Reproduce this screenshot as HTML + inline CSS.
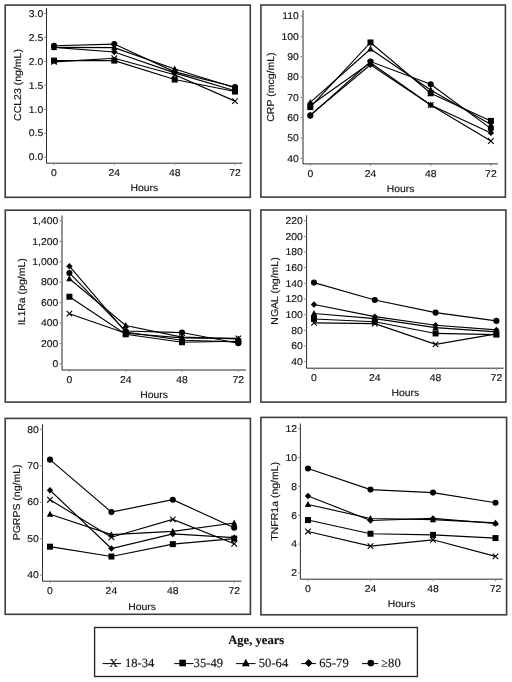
<!DOCTYPE html>
<html><head><meta charset="utf-8"><style>
html,body{margin:0;padding:0;background:#fff;}
body{width:512px;height:682px;overflow:hidden;}
svg{display:block;will-change:transform;font-family:"Liberation Sans",sans-serif;font-size:10.4px;fill:#111;}
svg text{stroke:#111;stroke-width:0.15px;text-rendering:geometricPrecision;}
</style></head><body>
<svg width="512" height="682" viewBox="0 0 512 682">
<rect x="5.2" y="5.1" width="245.10" height="192.20" fill="none" stroke="#3c3c3c" stroke-width="1.6"/>
<path d="M46.5,8.0V163.2H242.2" fill="none" stroke="#2a2a2a" stroke-width="1"/>
<path d="M44.00,157.20H46.5" stroke="#888" stroke-width="1"/>
<text transform="translate(43.20,160.44) scale(1,0.95)" text-anchor="end">0.0</text>
<path d="M44.00,133.23H46.5" stroke="#888" stroke-width="1"/>
<text transform="translate(43.20,136.47) scale(1,0.95)" text-anchor="end">0.5</text>
<path d="M44.00,109.27H46.5" stroke="#888" stroke-width="1"/>
<text transform="translate(43.20,112.50) scale(1,0.95)" text-anchor="end">1.0</text>
<path d="M44.00,85.30H46.5" stroke="#888" stroke-width="1"/>
<text transform="translate(43.20,88.54) scale(1,0.95)" text-anchor="end">1.5</text>
<path d="M44.00,61.33H46.5" stroke="#888" stroke-width="1"/>
<text transform="translate(43.20,64.57) scale(1,0.95)" text-anchor="end">2.0</text>
<path d="M44.00,37.37H46.5" stroke="#888" stroke-width="1"/>
<text transform="translate(43.20,40.60) scale(1,0.95)" text-anchor="end">2.5</text>
<path d="M44.00,13.40H46.5" stroke="#888" stroke-width="1"/>
<text transform="translate(43.20,16.64) scale(1,0.95)" text-anchor="end">3.0</text>
<path d="M54.00,163.2v2" stroke="#888" stroke-width="1"/>
<text transform="translate(54.00,176.00) scale(1,0.95)" text-anchor="middle">0</text>
<path d="M114.30,163.2v2" stroke="#888" stroke-width="1"/>
<text transform="translate(114.30,176.00) scale(1,0.95)" text-anchor="middle">24</text>
<path d="M174.70,163.2v2" stroke="#888" stroke-width="1"/>
<text transform="translate(174.70,176.00) scale(1,0.95)" text-anchor="middle">48</text>
<path d="M235.00,163.2v2" stroke="#888" stroke-width="1"/>
<text transform="translate(235.00,176.00) scale(1,0.95)" text-anchor="middle">72</text>
<text transform="translate(144.40,191.00) scale(1,0.95)" text-anchor="middle">Hours</text>
<text transform="translate(20.60,85.00) rotate(-90) scale(1,0.95)" text-anchor="middle" font-size="10.5">CCL23 (ng/mL)</text>
<path d="M54.00,61.81L114.30,58.22L174.70,74.75L235.00,101.12" fill="none" stroke="#000" stroke-width="1.15"/>
<path d="M54.00,60.61L114.30,60.61L174.70,79.55L235.00,91.53" fill="none" stroke="#000" stroke-width="1.15"/>
<path d="M54.00,47.43L114.30,47.67L174.70,69.00L235.00,87.70" fill="none" stroke="#000" stroke-width="1.15"/>
<path d="M54.00,47.43L114.30,51.99L174.70,72.84L235.00,90.81" fill="none" stroke="#000" stroke-width="1.15"/>
<path d="M54.00,45.75L114.30,44.08L174.70,71.88L235.00,86.98" fill="none" stroke="#000" stroke-width="1.15"/>
<path d="M51.20,59.01L56.80,64.61M51.20,64.61L56.80,59.01" stroke="#000" stroke-width="1.1" fill="none"/>
<path d="M111.50,55.42L117.10,61.02M111.50,61.02L117.10,55.42" stroke="#000" stroke-width="1.1" fill="none"/>
<path d="M171.90,71.95L177.50,77.55M171.90,77.55L177.50,71.95" stroke="#000" stroke-width="1.1" fill="none"/>
<path d="M232.20,98.32L237.80,103.92M232.20,103.92L237.80,98.32" stroke="#000" stroke-width="1.1" fill="none"/>
<rect x="51.00" y="57.61" width="6.00" height="6.00" fill="#000"/>
<rect x="111.30" y="57.61" width="6.00" height="6.00" fill="#000"/>
<rect x="171.70" y="76.55" width="6.00" height="6.00" fill="#000"/>
<rect x="232.00" y="88.53" width="6.00" height="6.00" fill="#000"/>
<path d="M54.00,44.03L57.20,50.03L50.80,50.03Z" fill="#000"/>
<path d="M114.30,44.27L117.50,50.27L111.10,50.27Z" fill="#000"/>
<path d="M174.70,65.60L177.90,71.60L171.50,71.60Z" fill="#000"/>
<path d="M235.00,84.30L238.20,90.30L231.80,90.30Z" fill="#000"/>
<path d="M54.00,44.23L57.20,47.43L54.00,50.63L50.80,47.43Z" fill="#000"/>
<path d="M114.30,48.79L117.50,51.99L114.30,55.19L111.10,51.99Z" fill="#000"/>
<path d="M174.70,69.64L177.90,72.84L174.70,76.04L171.50,72.84Z" fill="#000"/>
<path d="M235.00,87.61L238.20,90.81L235.00,94.01L231.80,90.81Z" fill="#000"/>
<circle cx="54.00" cy="45.75" r="3.05" fill="#000"/>
<circle cx="114.30" cy="44.08" r="3.05" fill="#000"/>
<circle cx="174.70" cy="71.88" r="3.05" fill="#000"/>
<circle cx="235.00" cy="86.98" r="3.05" fill="#000"/>
<rect x="260.9" y="5.0" width="244.50" height="192.10" fill="none" stroke="#3c3c3c" stroke-width="1.6"/>
<path d="M303.0,10.3V163.9H497.9" fill="none" stroke="#2a2a2a" stroke-width="1"/>
<path d="M300.50,158.30H303.0" stroke="#888" stroke-width="1"/>
<text transform="translate(298.90,161.54) scale(1,0.95)" text-anchor="end">40</text>
<path d="M300.50,137.98H303.0" stroke="#888" stroke-width="1"/>
<text transform="translate(298.90,141.22) scale(1,0.95)" text-anchor="end">50</text>
<path d="M300.50,117.66H303.0" stroke="#888" stroke-width="1"/>
<text transform="translate(298.90,120.89) scale(1,0.95)" text-anchor="end">60</text>
<path d="M300.50,97.34H303.0" stroke="#888" stroke-width="1"/>
<text transform="translate(298.90,100.57) scale(1,0.95)" text-anchor="end">70</text>
<path d="M300.50,77.01H303.0" stroke="#888" stroke-width="1"/>
<text transform="translate(298.90,80.25) scale(1,0.95)" text-anchor="end">80</text>
<path d="M300.50,56.69H303.0" stroke="#888" stroke-width="1"/>
<text transform="translate(298.90,59.93) scale(1,0.95)" text-anchor="end">90</text>
<path d="M300.50,36.37H303.0" stroke="#888" stroke-width="1"/>
<text transform="translate(298.90,39.61) scale(1,0.95)" text-anchor="end">100</text>
<path d="M300.50,16.05H303.0" stroke="#888" stroke-width="1"/>
<text transform="translate(298.90,19.29) scale(1,0.95)" text-anchor="end">110</text>
<path d="M310.30,163.9v2" stroke="#888" stroke-width="1"/>
<text transform="translate(310.30,177.00) scale(1,0.95)" text-anchor="middle">0</text>
<path d="M370.50,163.9v2" stroke="#888" stroke-width="1"/>
<text transform="translate(370.50,177.00) scale(1,0.95)" text-anchor="middle">24</text>
<path d="M430.70,163.9v2" stroke="#888" stroke-width="1"/>
<text transform="translate(430.70,177.00) scale(1,0.95)" text-anchor="middle">48</text>
<path d="M490.90,163.9v2" stroke="#888" stroke-width="1"/>
<text transform="translate(490.90,177.00) scale(1,0.95)" text-anchor="middle">72</text>
<text transform="translate(400.60,191.70) scale(1,0.95)" text-anchor="middle">Hours</text>
<text transform="translate(273.60,87.10) rotate(-90) scale(1,0.95)" text-anchor="middle" font-size="10.5">CRP (mcg/mL)</text>
<path d="M310.30,105.46L370.50,62.79L430.70,105.06L490.90,141.03" fill="none" stroke="#000" stroke-width="1.15"/>
<path d="M310.30,107.09L370.50,42.47L430.70,93.27L490.90,120.91" fill="none" stroke="#000" stroke-width="1.15"/>
<path d="M310.30,102.42L370.50,48.97L430.70,90.02L490.90,124.57" fill="none" stroke="#000" stroke-width="1.15"/>
<path d="M310.30,115.02L370.50,64.82L430.70,105.06L490.90,132.90" fill="none" stroke="#000" stroke-width="1.15"/>
<path d="M310.30,115.63L370.50,61.57L430.70,84.33L490.90,128.63" fill="none" stroke="#000" stroke-width="1.15"/>
<path d="M307.50,102.66L313.10,108.26M307.50,108.26L313.10,102.66" stroke="#000" stroke-width="1.1" fill="none"/>
<path d="M367.70,59.99L373.30,65.59M367.70,65.59L373.30,59.99" stroke="#000" stroke-width="1.1" fill="none"/>
<path d="M427.90,102.26L433.50,107.86M427.90,107.86L433.50,102.26" stroke="#000" stroke-width="1.1" fill="none"/>
<path d="M488.10,138.23L493.70,143.83M488.10,143.83L493.70,138.23" stroke="#000" stroke-width="1.1" fill="none"/>
<rect x="307.30" y="104.09" width="6.00" height="6.00" fill="#000"/>
<rect x="367.50" y="39.47" width="6.00" height="6.00" fill="#000"/>
<rect x="427.70" y="90.27" width="6.00" height="6.00" fill="#000"/>
<rect x="487.90" y="117.91" width="6.00" height="6.00" fill="#000"/>
<path d="M310.30,99.02L313.50,105.02L307.10,105.02Z" fill="#000"/>
<path d="M370.50,45.57L373.70,51.57L367.30,51.57Z" fill="#000"/>
<path d="M430.70,86.62L433.90,92.62L427.50,92.62Z" fill="#000"/>
<path d="M490.90,121.17L494.10,127.17L487.70,127.17Z" fill="#000"/>
<path d="M310.30,111.82L313.50,115.02L310.30,118.22L307.10,115.02Z" fill="#000"/>
<path d="M370.50,61.62L373.70,64.82L370.50,68.02L367.30,64.82Z" fill="#000"/>
<path d="M430.70,101.86L433.90,105.06L430.70,108.26L427.50,105.06Z" fill="#000"/>
<path d="M490.90,129.70L494.10,132.90L490.90,136.10L487.70,132.90Z" fill="#000"/>
<circle cx="310.30" cy="115.63" r="3.05" fill="#000"/>
<circle cx="370.50" cy="61.57" r="3.05" fill="#000"/>
<circle cx="430.70" cy="84.33" r="3.05" fill="#000"/>
<circle cx="490.90" cy="128.63" r="3.05" fill="#000"/>
<rect x="5.3" y="210.2" width="245.00" height="191.90" fill="none" stroke="#3c3c3c" stroke-width="1.6"/>
<path d="M62.0,215.5V370.0H246.0" fill="none" stroke="#2a2a2a" stroke-width="1"/>
<path d="M59.50,363.90H62.0" stroke="#888" stroke-width="1"/>
<text transform="translate(58.30,367.14) scale(1,0.95)" text-anchor="end">0</text>
<path d="M59.50,343.49H62.0" stroke="#888" stroke-width="1"/>
<text transform="translate(58.30,346.72) scale(1,0.95)" text-anchor="end">200</text>
<path d="M59.50,323.07H62.0" stroke="#888" stroke-width="1"/>
<text transform="translate(58.30,326.31) scale(1,0.95)" text-anchor="end">400</text>
<path d="M59.50,302.66H62.0" stroke="#888" stroke-width="1"/>
<text transform="translate(58.30,305.89) scale(1,0.95)" text-anchor="end">600</text>
<path d="M59.50,282.24H62.0" stroke="#888" stroke-width="1"/>
<text transform="translate(58.30,285.48) scale(1,0.95)" text-anchor="end">800</text>
<path d="M59.50,261.83H62.0" stroke="#888" stroke-width="1"/>
<text transform="translate(58.30,265.07) scale(1,0.95)" text-anchor="end">1,000</text>
<path d="M59.50,241.41H62.0" stroke="#888" stroke-width="1"/>
<text transform="translate(58.30,244.65) scale(1,0.95)" text-anchor="end">1,200</text>
<path d="M59.50,221.00H62.0" stroke="#888" stroke-width="1"/>
<text transform="translate(58.30,224.24) scale(1,0.95)" text-anchor="end">1,400</text>
<path d="M69.40,370.0v2" stroke="#888" stroke-width="1"/>
<text transform="translate(69.40,383.00) scale(1,0.95)" text-anchor="middle">0</text>
<path d="M125.70,370.0v2" stroke="#888" stroke-width="1"/>
<text transform="translate(125.70,383.00) scale(1,0.95)" text-anchor="middle">24</text>
<path d="M182.00,370.0v2" stroke="#888" stroke-width="1"/>
<text transform="translate(182.00,383.00) scale(1,0.95)" text-anchor="middle">48</text>
<path d="M238.30,370.0v2" stroke="#888" stroke-width="1"/>
<text transform="translate(238.30,383.00) scale(1,0.95)" text-anchor="middle">72</text>
<text transform="translate(154.00,397.50) scale(1,0.95)" text-anchor="middle">Hours</text>
<text transform="translate(25.00,291.80) rotate(-90) scale(1,0.95)" text-anchor="middle" font-size="10.5">IL1Ra (pg/mL)</text>
<path d="M69.40,313.68L125.70,333.28L182.00,337.87L238.30,338.38" fill="none" stroke="#000" stroke-width="1.15"/>
<path d="M69.40,296.74L125.70,334.30L182.00,342.26L238.30,341.24" fill="none" stroke="#000" stroke-width="1.15"/>
<path d="M69.40,278.77L125.70,325.52L182.00,337.16L238.30,338.89" fill="none" stroke="#000" stroke-width="1.15"/>
<path d="M69.40,266.22L125.70,332.05L182.00,340.22L238.30,341.85" fill="none" stroke="#000" stroke-width="1.15"/>
<path d="M69.40,272.95L125.70,331.03L182.00,332.56L238.30,343.28" fill="none" stroke="#000" stroke-width="1.15"/>
<path d="M66.60,310.88L72.20,316.48M66.60,316.48L72.20,310.88" stroke="#000" stroke-width="1.1" fill="none"/>
<path d="M122.90,330.48L128.50,336.08M122.90,336.08L128.50,330.48" stroke="#000" stroke-width="1.1" fill="none"/>
<path d="M179.20,335.07L184.80,340.67M179.20,340.67L184.80,335.07" stroke="#000" stroke-width="1.1" fill="none"/>
<path d="M235.50,335.58L241.10,341.18M235.50,341.18L241.10,335.58" stroke="#000" stroke-width="1.1" fill="none"/>
<rect x="66.40" y="293.74" width="6.00" height="6.00" fill="#000"/>
<rect x="122.70" y="331.30" width="6.00" height="6.00" fill="#000"/>
<rect x="179.00" y="339.26" width="6.00" height="6.00" fill="#000"/>
<rect x="235.30" y="338.24" width="6.00" height="6.00" fill="#000"/>
<path d="M69.40,275.37L72.60,281.37L66.20,281.37Z" fill="#000"/>
<path d="M125.70,322.12L128.90,328.12L122.50,328.12Z" fill="#000"/>
<path d="M182.00,333.76L185.20,339.76L178.80,339.76Z" fill="#000"/>
<path d="M238.30,335.49L241.50,341.49L235.10,341.49Z" fill="#000"/>
<path d="M69.40,263.02L72.60,266.22L69.40,269.42L66.20,266.22Z" fill="#000"/>
<path d="M125.70,328.85L128.90,332.05L125.70,335.25L122.50,332.05Z" fill="#000"/>
<path d="M182.00,337.02L185.20,340.22L182.00,343.42L178.80,340.22Z" fill="#000"/>
<path d="M238.30,338.65L241.50,341.85L238.30,345.05L235.10,341.85Z" fill="#000"/>
<circle cx="69.40" cy="272.95" r="3.05" fill="#000"/>
<circle cx="125.70" cy="331.03" r="3.05" fill="#000"/>
<circle cx="182.00" cy="332.56" r="3.05" fill="#000"/>
<circle cx="238.30" cy="343.28" r="3.05" fill="#000"/>
<rect x="260.9" y="210.0" width="245.00" height="192.10" fill="none" stroke="#3c3c3c" stroke-width="1.6"/>
<path d="M306.6,215.3V368.2H503.5" fill="none" stroke="#2a2a2a" stroke-width="1"/>
<path d="M304.10,361.60H306.6" stroke="#888" stroke-width="1"/>
<text transform="translate(302.80,364.84) scale(1,0.95)" text-anchor="end">40</text>
<path d="M304.10,345.96H306.6" stroke="#888" stroke-width="1"/>
<text transform="translate(302.80,349.19) scale(1,0.95)" text-anchor="end">60</text>
<path d="M304.10,330.31H306.6" stroke="#888" stroke-width="1"/>
<text transform="translate(302.80,333.55) scale(1,0.95)" text-anchor="end">80</text>
<path d="M304.10,314.67H306.6" stroke="#888" stroke-width="1"/>
<text transform="translate(302.80,317.90) scale(1,0.95)" text-anchor="end">100</text>
<path d="M304.10,299.02H306.6" stroke="#888" stroke-width="1"/>
<text transform="translate(302.80,302.26) scale(1,0.95)" text-anchor="end">120</text>
<path d="M304.10,283.38H306.6" stroke="#888" stroke-width="1"/>
<text transform="translate(302.80,286.61) scale(1,0.95)" text-anchor="end">140</text>
<path d="M304.10,267.73H306.6" stroke="#888" stroke-width="1"/>
<text transform="translate(302.80,270.97) scale(1,0.95)" text-anchor="end">160</text>
<path d="M304.10,252.09H306.6" stroke="#888" stroke-width="1"/>
<text transform="translate(302.80,255.33) scale(1,0.95)" text-anchor="end">180</text>
<path d="M304.10,236.44H306.6" stroke="#888" stroke-width="1"/>
<text transform="translate(302.80,239.68) scale(1,0.95)" text-anchor="end">200</text>
<path d="M304.10,220.80H306.6" stroke="#888" stroke-width="1"/>
<text transform="translate(302.80,224.04) scale(1,0.95)" text-anchor="end">220</text>
<path d="M314.00,368.2v2" stroke="#888" stroke-width="1"/>
<text transform="translate(314.00,380.70) scale(1,0.95)" text-anchor="middle">0</text>
<path d="M374.80,368.2v2" stroke="#888" stroke-width="1"/>
<text transform="translate(374.80,380.70) scale(1,0.95)" text-anchor="middle">24</text>
<path d="M435.60,368.2v2" stroke="#888" stroke-width="1"/>
<text transform="translate(435.60,380.70) scale(1,0.95)" text-anchor="middle">48</text>
<path d="M496.40,368.2v2" stroke="#888" stroke-width="1"/>
<text transform="translate(496.40,380.70) scale(1,0.95)" text-anchor="middle">72</text>
<text transform="translate(405.40,395.90) scale(1,0.95)" text-anchor="middle">Hours</text>
<text transform="translate(277.90,291.00) rotate(-90) scale(1,0.95)" text-anchor="middle" font-size="10.5">NGAL (ng/mL)</text>
<path d="M314.00,322.88L374.80,323.66L435.60,344.39L496.40,333.83" fill="none" stroke="#000" stroke-width="1.15"/>
<path d="M314.00,318.97L374.80,321.71L435.60,333.44L496.40,334.61" fill="none" stroke="#000" stroke-width="1.15"/>
<path d="M314.00,313.49L374.80,318.58L435.60,327.57L496.40,331.88" fill="none" stroke="#000" stroke-width="1.15"/>
<path d="M314.00,304.50L374.80,316.62L435.60,325.23L496.40,329.92" fill="none" stroke="#000" stroke-width="1.15"/>
<path d="M314.00,282.60L374.80,300.04L435.60,312.63L496.40,320.92" fill="none" stroke="#000" stroke-width="1.15"/>
<path d="M311.20,320.08L316.80,325.68M311.20,325.68L316.80,320.08" stroke="#000" stroke-width="1.1" fill="none"/>
<path d="M372.00,320.86L377.60,326.46M372.00,326.46L377.60,320.86" stroke="#000" stroke-width="1.1" fill="none"/>
<path d="M432.80,341.59L438.40,347.19M432.80,347.19L438.40,341.59" stroke="#000" stroke-width="1.1" fill="none"/>
<path d="M493.60,331.03L499.20,336.63M493.60,336.63L499.20,331.03" stroke="#000" stroke-width="1.1" fill="none"/>
<rect x="311.00" y="315.97" width="6.00" height="6.00" fill="#000"/>
<rect x="371.80" y="318.71" width="6.00" height="6.00" fill="#000"/>
<rect x="432.60" y="330.44" width="6.00" height="6.00" fill="#000"/>
<rect x="493.40" y="331.61" width="6.00" height="6.00" fill="#000"/>
<path d="M314.00,310.09L317.20,316.09L310.80,316.09Z" fill="#000"/>
<path d="M374.80,315.18L378.00,321.18L371.60,321.18Z" fill="#000"/>
<path d="M435.60,324.17L438.80,330.17L432.40,330.17Z" fill="#000"/>
<path d="M496.40,328.48L499.60,334.48L493.20,334.48Z" fill="#000"/>
<path d="M314.00,301.30L317.20,304.50L314.00,307.70L310.80,304.50Z" fill="#000"/>
<path d="M374.80,313.42L378.00,316.62L374.80,319.82L371.60,316.62Z" fill="#000"/>
<path d="M435.60,322.03L438.80,325.23L435.60,328.43L432.40,325.23Z" fill="#000"/>
<path d="M496.40,326.72L499.60,329.92L496.40,333.12L493.20,329.92Z" fill="#000"/>
<circle cx="314.00" cy="282.60" r="3.05" fill="#000"/>
<circle cx="374.80" cy="300.04" r="3.05" fill="#000"/>
<circle cx="435.60" cy="312.63" r="3.05" fill="#000"/>
<circle cx="496.40" cy="320.92" r="3.05" fill="#000"/>
<rect x="5.2" y="418.4" width="245.20" height="195.90" fill="none" stroke="#3c3c3c" stroke-width="1.6"/>
<path d="M42.5,424.3V581.2H241.3" fill="none" stroke="#2a2a2a" stroke-width="1"/>
<path d="M40.00,575.10H42.5" stroke="#888" stroke-width="1"/>
<text transform="translate(38.80,578.34) scale(1,0.95)" text-anchor="end">40</text>
<path d="M40.00,538.67H42.5" stroke="#888" stroke-width="1"/>
<text transform="translate(38.80,541.91) scale(1,0.95)" text-anchor="end">50</text>
<path d="M40.00,502.25H42.5" stroke="#888" stroke-width="1"/>
<text transform="translate(38.80,505.49) scale(1,0.95)" text-anchor="end">60</text>
<path d="M40.00,465.82H42.5" stroke="#888" stroke-width="1"/>
<text transform="translate(38.80,469.06) scale(1,0.95)" text-anchor="end">70</text>
<path d="M40.00,429.40H42.5" stroke="#888" stroke-width="1"/>
<text transform="translate(38.80,432.64) scale(1,0.95)" text-anchor="end">80</text>
<path d="M50.00,581.2v2" stroke="#888" stroke-width="1"/>
<text transform="translate(50.00,594.40) scale(1,0.95)" text-anchor="middle">0</text>
<path d="M111.40,581.2v2" stroke="#888" stroke-width="1"/>
<text transform="translate(111.40,594.40) scale(1,0.95)" text-anchor="middle">24</text>
<path d="M172.80,581.2v2" stroke="#888" stroke-width="1"/>
<text transform="translate(172.80,594.40) scale(1,0.95)" text-anchor="middle">48</text>
<path d="M234.20,581.2v2" stroke="#888" stroke-width="1"/>
<text transform="translate(234.20,594.40) scale(1,0.95)" text-anchor="middle">72</text>
<text transform="translate(142.00,610.20) scale(1,0.95)" text-anchor="middle">Hours</text>
<text transform="translate(19.90,502.40) rotate(-90) scale(1,0.95)" text-anchor="middle" font-size="10.5">PGRPS (ng/mL)</text>
<path d="M50.00,499.70L111.40,537.22L172.80,519.37L234.20,543.77" fill="none" stroke="#000" stroke-width="1.15"/>
<path d="M50.00,546.69L111.40,556.52L172.80,544.14L234.20,538.67" fill="none" stroke="#000" stroke-width="1.15"/>
<path d="M50.00,514.27L111.40,534.67L172.80,531.39L234.20,523.01" fill="none" stroke="#000" stroke-width="1.15"/>
<path d="M50.00,490.23L111.40,548.51L172.80,533.94L234.20,537.58" fill="none" stroke="#000" stroke-width="1.15"/>
<path d="M50.00,459.63L111.40,512.08L172.80,499.70L234.20,527.75" fill="none" stroke="#000" stroke-width="1.15"/>
<path d="M47.20,496.90L52.80,502.50M47.20,502.50L52.80,496.90" stroke="#000" stroke-width="1.1" fill="none"/>
<path d="M108.60,534.42L114.20,540.02M108.60,540.02L114.20,534.42" stroke="#000" stroke-width="1.1" fill="none"/>
<path d="M170.00,516.57L175.60,522.17M170.00,522.17L175.60,516.57" stroke="#000" stroke-width="1.1" fill="none"/>
<path d="M231.40,540.97L237.00,546.57M231.40,546.57L237.00,540.97" stroke="#000" stroke-width="1.1" fill="none"/>
<rect x="47.00" y="543.69" width="6.00" height="6.00" fill="#000"/>
<rect x="108.40" y="553.52" width="6.00" height="6.00" fill="#000"/>
<rect x="169.80" y="541.14" width="6.00" height="6.00" fill="#000"/>
<rect x="231.20" y="535.67" width="6.00" height="6.00" fill="#000"/>
<path d="M50.00,510.87L53.20,516.87L46.80,516.87Z" fill="#000"/>
<path d="M111.40,531.27L114.60,537.27L108.20,537.27Z" fill="#000"/>
<path d="M172.80,527.99L176.00,533.99L169.60,533.99Z" fill="#000"/>
<path d="M234.20,519.61L237.40,525.61L231.00,525.61Z" fill="#000"/>
<path d="M50.00,487.03L53.20,490.23L50.00,493.43L46.80,490.23Z" fill="#000"/>
<path d="M111.40,545.31L114.60,548.51L111.40,551.71L108.20,548.51Z" fill="#000"/>
<path d="M172.80,530.74L176.00,533.94L172.80,537.14L169.60,533.94Z" fill="#000"/>
<path d="M234.20,534.38L237.40,537.58L234.20,540.78L231.00,537.58Z" fill="#000"/>
<circle cx="50.00" cy="459.63" r="3.05" fill="#000"/>
<circle cx="111.40" cy="512.08" r="3.05" fill="#000"/>
<circle cx="172.80" cy="499.70" r="3.05" fill="#000"/>
<circle cx="234.20" cy="527.75" r="3.05" fill="#000"/>
<rect x="260.9" y="417.4" width="245.70" height="197.40" fill="none" stroke="#3c3c3c" stroke-width="1.6"/>
<path d="M300.4,423.5V579.2H502.7" fill="none" stroke="#2a2a2a" stroke-width="1"/>
<path d="M297.90,573.00H300.4" stroke="#888" stroke-width="1"/>
<text transform="translate(297.00,576.24) scale(1,0.95)" text-anchor="end">2</text>
<path d="M297.90,544.14H300.4" stroke="#888" stroke-width="1"/>
<text transform="translate(297.00,547.38) scale(1,0.95)" text-anchor="end">4</text>
<path d="M297.90,515.28H300.4" stroke="#888" stroke-width="1"/>
<text transform="translate(297.00,518.52) scale(1,0.95)" text-anchor="end">6</text>
<path d="M297.90,486.42H300.4" stroke="#888" stroke-width="1"/>
<text transform="translate(297.00,489.66) scale(1,0.95)" text-anchor="end">8</text>
<path d="M297.90,457.56H300.4" stroke="#888" stroke-width="1"/>
<text transform="translate(297.00,460.80) scale(1,0.95)" text-anchor="end">10</text>
<path d="M297.90,428.70H300.4" stroke="#888" stroke-width="1"/>
<text transform="translate(297.00,431.94) scale(1,0.95)" text-anchor="end">12</text>
<path d="M308.00,579.2v2" stroke="#888" stroke-width="1"/>
<text transform="translate(308.00,592.00) scale(1,0.95)" text-anchor="middle">0</text>
<path d="M370.50,579.2v2" stroke="#888" stroke-width="1"/>
<text transform="translate(370.50,592.00) scale(1,0.95)" text-anchor="middle">24</text>
<path d="M433.00,579.2v2" stroke="#888" stroke-width="1"/>
<text transform="translate(433.00,592.00) scale(1,0.95)" text-anchor="middle">48</text>
<path d="M495.50,579.2v2" stroke="#888" stroke-width="1"/>
<text transform="translate(495.50,592.00) scale(1,0.95)" text-anchor="middle">72</text>
<text transform="translate(401.50,607.30) scale(1,0.95)" text-anchor="middle">Hours</text>
<text transform="translate(277.90,501.30) rotate(-90) scale(1,0.95)" text-anchor="middle" font-size="10.5">TNFR1a (ng/mL)</text>
<path d="M308.00,531.44L370.50,546.16L433.00,539.81L495.50,556.41" fill="none" stroke="#000" stroke-width="1.15"/>
<path d="M308.00,520.04L370.50,533.75L433.00,534.90L495.50,538.08" fill="none" stroke="#000" stroke-width="1.15"/>
<path d="M308.00,504.46L370.50,518.45L433.00,519.61L495.50,522.93" fill="none" stroke="#000" stroke-width="1.15"/>
<path d="M308.00,495.94L370.50,520.47L433.00,518.45L495.50,523.51" fill="none" stroke="#000" stroke-width="1.15"/>
<path d="M308.00,468.53L370.50,489.59L433.00,492.62L495.50,502.73" fill="none" stroke="#000" stroke-width="1.15"/>
<path d="M305.20,528.64L310.80,534.24M305.20,534.24L310.80,528.64" stroke="#000" stroke-width="1.1" fill="none"/>
<path d="M367.70,543.36L373.30,548.96M367.70,548.96L373.30,543.36" stroke="#000" stroke-width="1.1" fill="none"/>
<path d="M430.20,537.01L435.80,542.61M430.20,542.61L435.80,537.01" stroke="#000" stroke-width="1.1" fill="none"/>
<path d="M492.70,553.61L498.30,559.21M492.70,559.21L498.30,553.61" stroke="#000" stroke-width="1.1" fill="none"/>
<rect x="305.00" y="517.04" width="6.00" height="6.00" fill="#000"/>
<rect x="367.50" y="530.75" width="6.00" height="6.00" fill="#000"/>
<rect x="430.00" y="531.90" width="6.00" height="6.00" fill="#000"/>
<rect x="492.50" y="535.08" width="6.00" height="6.00" fill="#000"/>
<path d="M308.00,501.06L311.20,507.06L304.80,507.06Z" fill="#000"/>
<path d="M370.50,515.05L373.70,521.05L367.30,521.05Z" fill="#000"/>
<path d="M433.00,516.21L436.20,522.21L429.80,522.21Z" fill="#000"/>
<path d="M495.50,519.53L498.70,525.53L492.30,525.53Z" fill="#000"/>
<path d="M308.00,492.74L311.20,495.94L308.00,499.14L304.80,495.94Z" fill="#000"/>
<path d="M370.50,517.27L373.70,520.47L370.50,523.67L367.30,520.47Z" fill="#000"/>
<path d="M433.00,515.25L436.20,518.45L433.00,521.65L429.80,518.45Z" fill="#000"/>
<path d="M495.50,520.31L498.70,523.51L495.50,526.71L492.30,523.51Z" fill="#000"/>
<circle cx="308.00" cy="468.53" r="3.05" fill="#000"/>
<circle cx="370.50" cy="489.59" r="3.05" fill="#000"/>
<circle cx="433.00" cy="492.62" r="3.05" fill="#000"/>
<circle cx="495.50" cy="502.73" r="3.05" fill="#000"/>
<rect x="94.6" y="627.5" width="322.8" height="49" fill="none" stroke="#222" stroke-width="1.3"/>
<text x="256.2" y="644.2" text-anchor="middle" font-family="Liberation Serif" font-weight="bold" font-size="12.6" stroke="none">Age, years</text>
<path d="M102.5,663.6H121.0" stroke="#000" stroke-width="1"/>
<text x="113.7" y="667.0" text-anchor="middle" font-family="Liberation Serif" font-size="12" stroke="none">X</text>
<text x="125.0" y="667.2" font-family="Liberation Serif" font-size="12.6" stroke="none">18-34</text>
<path d="M174.2,663.6H193.5" stroke="#000" stroke-width="1"/>
<rect x="179.30" y="659.70" width="6.60" height="6.60" fill="#000"/>
<text x="193.6" y="667.2" font-family="Liberation Serif" font-size="12.6" stroke="none">35-49</text>
<path d="M236.0,663.6H255.6" stroke="#000" stroke-width="1"/>
<path d="M245.80,658.75L249.80,666.25L241.80,666.25Z" fill="#000"/>
<text x="258.8" y="667.2" font-family="Liberation Serif" font-size="12.6" stroke="none">50-64</text>
<path d="M301.2,663.6H316.0" stroke="#000" stroke-width="1"/>
<path d="M308.60,659.00L312.60,663.00L308.60,667.00L304.60,663.00Z" fill="#000"/>
<text x="319.3" y="667.2" font-family="Liberation Serif" font-size="12.6" stroke="none">65-79</text>
<path d="M362.0,663.6H378.2" stroke="#000" stroke-width="1"/>
<circle cx="370.80" cy="663.00" r="3.35" fill="#000"/>
<text x="381.2" y="667.2" font-family="Liberation Serif" font-size="12.6" stroke="none">≥80</text>
</svg>
</body></html>
